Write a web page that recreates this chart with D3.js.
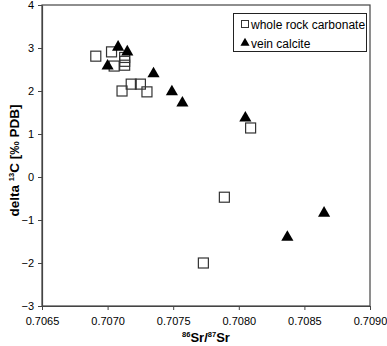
<!DOCTYPE html>
<html>
<head>
<meta charset="utf-8">
<script src="https://cdn.jsdelivr.net/npm/d3@7"></script>
<style>
  body { margin: 0; background: #fff; }
  svg text { font-family: "Liberation Sans", Arial, sans-serif; fill: #000; }
</style>
</head>
<body>
<svg id="chart" width="387" height="346"></svg>
<script>
// whole rock carbonate (squares)
var rockSr = [0.70691, 0.70703, 0.70705, 0.70713, 0.70713, 0.70713, 0.70711, 0.70718, 0.70725, 0.70730, 0.70809, 0.70789, 0.70773];
var rockC  = [2.81, 2.91, 2.58, 2.78, 2.69, 2.60, 2.00, 2.16, 2.16, 1.98, 1.14, -0.47, -2.00];

// vein calcite (triangles)
var veinSr = [0.70708, 0.70715, 0.70700, 0.70735, 0.70749, 0.70757, 0.70805, 0.70837, 0.70865];
var veinC  = [3.02, 2.91, 2.58, 2.40, 1.98, 1.72, 1.37, -1.40, -0.84];

var xTicks = [0.7065, 0.7070, 0.7075, 0.7080, 0.7085, 0.7090];
var yTicks = [-3, -2, -1, 0, 1, 2, 3, 4];

var svg = d3.select("#chart");
var pLeft = 42, pRight = 370, pTop = 5, pBottom = 306;

var xScale = d3.scaleLinear().domain([0.7065, 0.7090]).range([pLeft, pRight]);
var yScale = d3.scaleLinear().domain([-3, 4]).range([pBottom, pTop]);

// frame
svg.append("rect")
   .attr("x", pLeft).attr("y", pTop)
   .attr("width", pRight - pLeft).attr("height", pBottom - pTop)
   .attr("fill", "none").attr("stroke", "#444").attr("stroke-width", 1.2);

var xAxis = d3.axisBottom(xScale).tickValues(xTicks).tickFormat(d3.format(".4f")).tickSize(4).tickSizeOuter(0);
var yAxis = d3.axisLeft(yScale).tickValues(yTicks).tickFormat(d3.format("d")).tickSize(4).tickSizeOuter(0);

var gx = svg.append("g").attr("transform", "translate(0," + pBottom + ")").call(xAxis);
var gy = svg.append("g").attr("transform", "translate(" + pLeft + ",0)").call(yAxis);

[gx, gy].forEach(function (g) {
  g.select(".domain").attr("stroke", "#444").attr("stroke-width", 1.2);
  g.selectAll(".tick line").attr("stroke", "#444");
  g.selectAll(".tick text").attr("font-size", 11).attr("font-family", "Liberation Sans, Arial, sans-serif").attr("fill", "#000");
});
gx.selectAll(".tick text").attr("dy", "1.05em");
gy.selectAll(".tick text").attr("x", -8);

// axis titles
var xt = svg.append("text")
   .attr("x", (pLeft + pRight) / 2).attr("y", 342)
   .attr("text-anchor", "middle").attr("font-size", 13).attr("font-weight", "bold");
xt.append("tspan").attr("font-size", 7.5).attr("dy", "-5").text("86");
xt.append("tspan").attr("dy", "5").text("Sr/");
xt.append("tspan").attr("font-size", 7.5).attr("dy", "-5").text("87");
xt.append("tspan").attr("dy", "5").text("Sr");

var yt = svg.append("text")
   .attr("transform", "translate(19," + ((pTop + pBottom) / 2 + 5) + ") rotate(-90)")
   .attr("text-anchor", "middle").attr("font-size", 13.5).attr("font-weight", "bold");
yt.append("tspan").text("delta ");
yt.append("tspan").attr("font-size", 7.5).attr("dy", "-5").text("13");
yt.append("tspan").attr("dy", "5").text("C [‰ PDB]");

// markers
var tri = d3.symbol().type(d3.symbolTriangle).size(64);

var rock = rockSr.map(function (d, i) { return {x: d, y: rockC[i]}; });
var vein = veinSr.map(function (d, i) { return {x: d, y: veinC[i]}; });

svg.selectAll("rect.rock")
   .data(rock)
   .enter()
   .append("rect")
   .attr("class", "rock")
   .attr("x", (d) => xScale(d.x) - 5)
   .attr("y", (d) => yScale(d.y) - 5)
   .attr("width", 10)
   .attr("height", 10)
   .attr("fill", "none")
   .attr("stroke", "#333")
   .attr("stroke-width", 1.2);

svg.selectAll("path.vein")
   .data(vein)
   .enter()
   .append("path")
   .attr("class", "vein")
   .attr("d", tri)
   .attr("transform", (d) => "translate(" + xScale(d.x) + "," + yScale(d.y) + ")")
   .attr("fill", "#000");

// legend
var lg = svg.append("g");
lg.append("rect")
  .attr("x", 233.5).attr("y", 13.5).attr("width", 133).attr("height", 38)
  .attr("fill", "#fff").attr("stroke", "#222").attr("stroke-width", 1);
lg.append("rect")
  .attr("x", 241.5).attr("y", 20.5).attr("width", 7).attr("height", 7)
  .attr("fill", "none").attr("stroke", "#333");
lg.append("text").attr("x", 251).attr("y", 28.5).attr("font-size", 12).text("whole rock carbonate");
lg.append("path")
  .attr("d", d3.symbol().type(d3.symbolTriangle).size(36))
  .attr("transform", "translate(245,43)").attr("fill", "#000");
lg.append("text").attr("x", 251).attr("y", 47.5).attr("font-size", 12).text("vein calcite");
</script>
</body>
</html>
